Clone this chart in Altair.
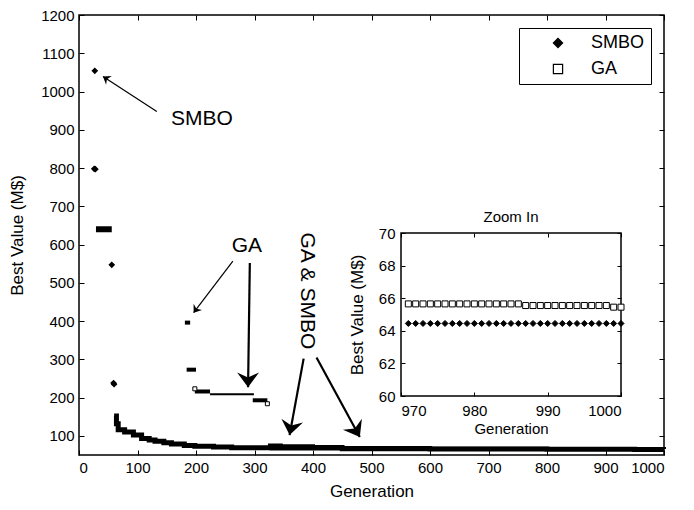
import altair as alt
import pandas as pd

# ---------------- data ----------------
# SMBO: step curve of best value after generation 60
smbo_curve_gen = [60, 64, 67, 78, 93, 107, 120, 130, 145, 158, 180, 198, 230, 261, 330, 450, 600, 800, 950, 1000]
smbo_curve_val = [152, 132, 116, 110, 102, 93, 89, 86, 82, 79, 75, 73, 71, 69, 68, 66.5, 65.5, 65, 64.5, 64.5]

# SMBO isolated early markers
smbo_early_gen = [27, 26, 28, 56, 59, 60]
smbo_early_val = [1054, 798, 797, 547, 238, 235]

# SMBO run of overlapping markers (start gen, end gen, value)
smbo_run_start = [29]
smbo_run_end = [56]
smbo_run_val = [640]

# GA: thick runs of overlapping markers
ga_run_start = [181, 184, 198, 297]
ga_run_end = [190, 200, 224, 322]
ga_run_val = [396, 273, 216, 193]
# GA: thin run
ga_thin_start = [224]
ga_thin_end = [299]
ga_thin_val = [209]
# GA isolated markers
ga_pt_gen = [198, 322]
ga_pt_val = [223, 184]
# GA late step curve (merges with SMBO)
ga_curve_gen = [323, 345, 400, 450, 600, 800, 970, 986, 1000]
ga_curve_val = [75, 73, 71, 68, 66.5, 65.8, 65.6, 65.5, 65.4]

# Zoom-in panel (generations 971..1000)
zoom_gen = list(range(971, 1001))
zoom_smbo = [64.45] * 30
zoom_ga = [65.65] * 16 + [65.55] * 12 + [65.45] * 2

# Annotation arrows (tail -> head, data units)
arrow_tail_gen = [133, 263, 292, 384, 406]
arrow_tail_val = [948, 557, 552, 302, 305]
arrow_head_gen = [41, 196, 289, 360, 480]
arrow_head_val = [1039, 422, 227, 102, 97]
arrow_angle = [123, 36, 0, 10, 330]
arrow_kind = ["thin", "thin", "bold", "bold", "bold"]

# Annotation texts
label_text = ["SMBO", "GA"]
label_gen = [210, 287]
label_val = [927, 596]
rot_text = ["GA & SMBO"]
rot_gen = [389]
rot_val = [479]

# axis tick values
x_ticks = list(range(0, 1001, 100))
y_ticks = list(range(100, 1201, 100))
zx_ticks = [970, 980, 990, 1000]
zy_ticks = [60, 62, 64, 66, 68, 70]

# ---------------- layout constants ----------------
W, H = 585, 440
ZX_RANGE = [322, 542]
ZY_RANGE = [381, 218]
FONT = "Liberation Sans"


def xs():
    return alt.Scale(domain=[0, 1000], nice=False, zero=False)


def ys():
    return alt.Scale(domain=[50, 1200], nice=False, zero=False)


def zxs():
    return alt.Scale(domain=[970, 1000], nice=False, zero=False, range=ZX_RANGE)


def zys():
    return alt.Scale(domain=[60, 70], nice=False, zero=False, range=ZY_RANGE)


common_axis = dict(domain=False, grid=False, tickColor="black", tickWidth=1, format="d",
                   labelColor="black", labelFont=FONT, labelFontSize=15,
                   titleColor="black", titleFont=FONT, titleFontWeight="normal")

# ---------------- main panel ----------------
df_smbo = pd.DataFrame({"gen": smbo_curve_gen, "val": smbo_curve_val})
smbo_line = alt.Chart(df_smbo).mark_line(interpolate="step-after", color="black",
                                          strokeWidth=5, strokeCap="butt").encode(
    x=alt.X("gen:Q", scale=xs(), axis=alt.Axis(orient="bottom", values=x_ticks, tickSize=5, offset=-5,
                                               labelPadding=5, title="Generation", titleFontSize=17,
                                               titlePadding=8, **common_axis)),
    y=alt.Y("val:Q", scale=ys(), axis=alt.Axis(orient="left", values=y_ticks, tickSize=5, offset=-5,
                                               labelPadding=5, title="Best Value (M$)", titleFontSize=17,
                                               titlePadding=14, **common_axis)),
)

# mirror (top / right) tick axes
mirror = alt.Chart(df_smbo).mark_point(opacity=0).encode(
    x=alt.X("gen:Q", scale=xs(), axis=alt.Axis(orient="top", values=x_ticks, tickSize=5, offset=-5,
                                               labels=False, title=None, **common_axis)),
    y=alt.Y("val:Q", scale=ys(), axis=alt.Axis(orient="right", values=y_ticks, tickSize=5, offset=-5,
                                               labels=False, title=None, **common_axis)),
)

df_ga_curve = pd.DataFrame({"gen": ga_curve_gen, "val": ga_curve_val})
ga_line = alt.Chart(df_ga_curve).mark_line(interpolate="step-after", color="black",
                                           strokeWidth=4, strokeCap="butt").encode(
    x=alt.X("gen:Q", scale=xs(), axis=None),
    y=alt.Y("val:Q", scale=ys(), axis=None),
)

df_early = pd.DataFrame({"gen": smbo_early_gen, "val": smbo_early_val})
smbo_early = alt.Chart(df_early).mark_point(shape="diamond", filled=True, color="black",
                                             size=45, opacity=1).encode(
    x=alt.X("gen:Q", scale=xs(), axis=None),
    y=alt.Y("val:Q", scale=ys(), axis=None),
)

df_smbo_run = pd.DataFrame({"g0": smbo_run_start, "g1": smbo_run_end, "val": smbo_run_val})
smbo_run = alt.Chart(df_smbo_run).mark_rule(color="black", strokeWidth=6).encode(
    x=alt.X("g0:Q", scale=xs(), axis=None), x2="g1:Q",
    y=alt.Y("val:Q", scale=ys(), axis=None),
)

df_ga_run = pd.DataFrame({"g0": ga_run_start, "g1": ga_run_end, "val": ga_run_val})
ga_run = alt.Chart(df_ga_run).mark_rule(color="black", strokeWidth=4).encode(
    x=alt.X("g0:Q", scale=xs(), axis=None), x2="g1:Q",
    y=alt.Y("val:Q", scale=ys(), axis=None),
)

df_ga_thin = pd.DataFrame({"g0": ga_thin_start, "g1": ga_thin_end, "val": ga_thin_val})
ga_thin = alt.Chart(df_ga_thin).mark_rule(color="black", strokeWidth=2).encode(
    x=alt.X("g0:Q", scale=xs(), axis=None), x2="g1:Q",
    y=alt.Y("val:Q", scale=ys(), axis=None),
)

df_ga_pt = pd.DataFrame({"gen": ga_pt_gen, "val": ga_pt_val})
ga_pts = alt.Chart(df_ga_pt).mark_point(shape="square", filled=True, fill="white", stroke="black",
                                        strokeWidth=1, size=16, opacity=1).encode(
    x=alt.X("gen:Q", scale=xs(), axis=None),
    y=alt.Y("val:Q", scale=ys(), axis=None),
)

df_arrows = pd.DataFrame({"tg": arrow_tail_gen, "tv": arrow_tail_val,
                          "hg": arrow_head_gen, "hv": arrow_head_val,
                          "angle": arrow_angle, "kind": arrow_kind})
arrow_lines = alt.Chart(df_arrows).mark_rule(color="black").encode(
    x=alt.X("tg:Q", scale=xs(), axis=None), x2="hg:Q",
    y=alt.Y("tv:Q", scale=ys(), axis=None), y2="hv:Q",
    strokeWidth=alt.StrokeWidth("kind:N", scale=alt.Scale(domain=["thin", "bold"], range=[1.2, 2.2]),
                                legend=None),
)
ARROW_PATH = "M0,0 L-1,-1.35 L0,-0.9 L1,-1.35 Z"
arrow_heads = alt.Chart(df_arrows).mark_point(shape=ARROW_PATH, filled=True, color="black",
                                              opacity=1, strokeWidth=0).encode(
    x=alt.X("hg:Q", scale=xs(), axis=None),
    y=alt.Y("hv:Q", scale=ys(), axis=None),
    angle=alt.Angle("angle:Q", scale=None),
    size=alt.Size("kind:N", scale=alt.Scale(domain=["thin", "bold"], range=[110, 480]), legend=None),
)

df_labels = pd.DataFrame({"gen": label_gen, "val": label_val, "text": label_text})
labels = alt.Chart(df_labels).mark_text(font=FONT, fontSize=21, color="black").encode(
    x=alt.X("gen:Q", scale=xs(), axis=None),
    y=alt.Y("val:Q", scale=ys(), axis=None),
    text="text:N",
)

df_rot = pd.DataFrame({"gen": rot_gen, "val": rot_val, "text": rot_text})
rot_label = alt.Chart(df_rot).mark_text(font=FONT, fontSize=21, color="black", angle=90).encode(
    x=alt.X("gen:Q", scale=xs(), axis=None),
    y=alt.Y("val:Q", scale=ys(), axis=None),
    text="text:N",
)

# ---------------- zoom-in panel ----------------
df_zoom = pd.DataFrame({
    "gen": zoom_gen + zoom_gen,
    "val": zoom_smbo + zoom_ga,
    "series": ["SMBO"] * len(zoom_gen) + ["GA"] * len(zoom_gen),
})

zoom_frame = alt.Chart(pd.DataFrame({"g0": [970], "g1": [1000], "v0": [60], "v1": [70]})).mark_rect(
    fillOpacity=0, stroke="black", strokeWidth=1.5).encode(
    x=alt.X("g0:Q", scale=zxs(), axis=alt.Axis(orient="top", values=zx_ticks, tickSize=4, offset=-(ZY_RANGE[1] + 4),
                                                labels=False, title=None, **common_axis)),
    x2="g1:Q",
    y=alt.Y("v0:Q", scale=zys(), axis=alt.Axis(orient="right", values=zy_ticks, tickSize=4,
                                                offset=(ZX_RANGE[1] - 4) - W,
                                                labels=False, title=None, **common_axis)),
    y2="v1:Q",
)

series_domain = ["SMBO", "GA"]
zoom_pts = alt.Chart(df_zoom).mark_point(filled=True, strokeWidth=1, size=36, opacity=1).encode(
    x=alt.X("gen:Q", scale=zxs(), axis=alt.Axis(orient="bottom", values=zx_ticks, tickSize=4,
                                                 offset=(ZY_RANGE[0] - 4) - H, labelPadding=7,
                                                 title="Generation", titleFontSize=15, titlePadding=3,
                                                 **common_axis)),
    y=alt.Y("val:Q", scale=zys(), axis=alt.Axis(orient="left", values=zy_ticks, tickSize=4,
                                                offset=-(ZX_RANGE[0] + 4), labelPadding=6,
                                                title="Best Value (M$)", titleFontSize=17, titlePadding=12,
                                                **common_axis)),
    shape=alt.Shape("series:N", scale=alt.Scale(domain=series_domain, range=["diamond", "square"]),
                    legend=alt.Legend(title=None)),
    fill=alt.Fill("series:N", scale=alt.Scale(domain=series_domain, range=["black", "white"]),
                  legend=alt.Legend(title=None)),
    stroke=alt.Stroke("series:N", scale=alt.Scale(domain=series_domain, range=["black", "black"]),
                      legend=alt.Legend(title=None)),
)

zoom_title = alt.Chart(pd.DataFrame({"gen": [985], "val": [70], "text": ["Zoom In"]})).mark_text(
    font=FONT, fontSize=15, color="black", dy=-16).encode(
    x=alt.X("gen:Q", scale=zxs(), axis=None),
    y=alt.Y("val:Q", scale=zys(), axis=None),
    text="text:N",
)

chart = alt.layer(
    mirror, smbo_line, ga_line, smbo_early, smbo_run, ga_run, ga_thin, ga_pts,
    arrow_lines, arrow_heads, labels, rot_label,
    zoom_frame, zoom_pts, zoom_title,
).resolve_scale(
    x="independent", y="independent"
).properties(
    width=W, height=H, padding={"left": 0, "top": 0, "right": 0, "bottom": 0},
    background="white",
).configure_view(
    stroke="black", strokeWidth=1.5
).configure_legend(
    orient="top-right", offset=13, strokeColor="black", fillColor="white", padding=6,
    labelFont=FONT, labelFontSize=18, labelColor="black", labelOffset=24,
    symbolOffset=24, symbolSize=85, symbolStrokeWidth=1.2,
    rowPadding=8, labelLimit=200,
)

chart.save("out.html", embed_options={"renderer": "svg", "actions": False})
